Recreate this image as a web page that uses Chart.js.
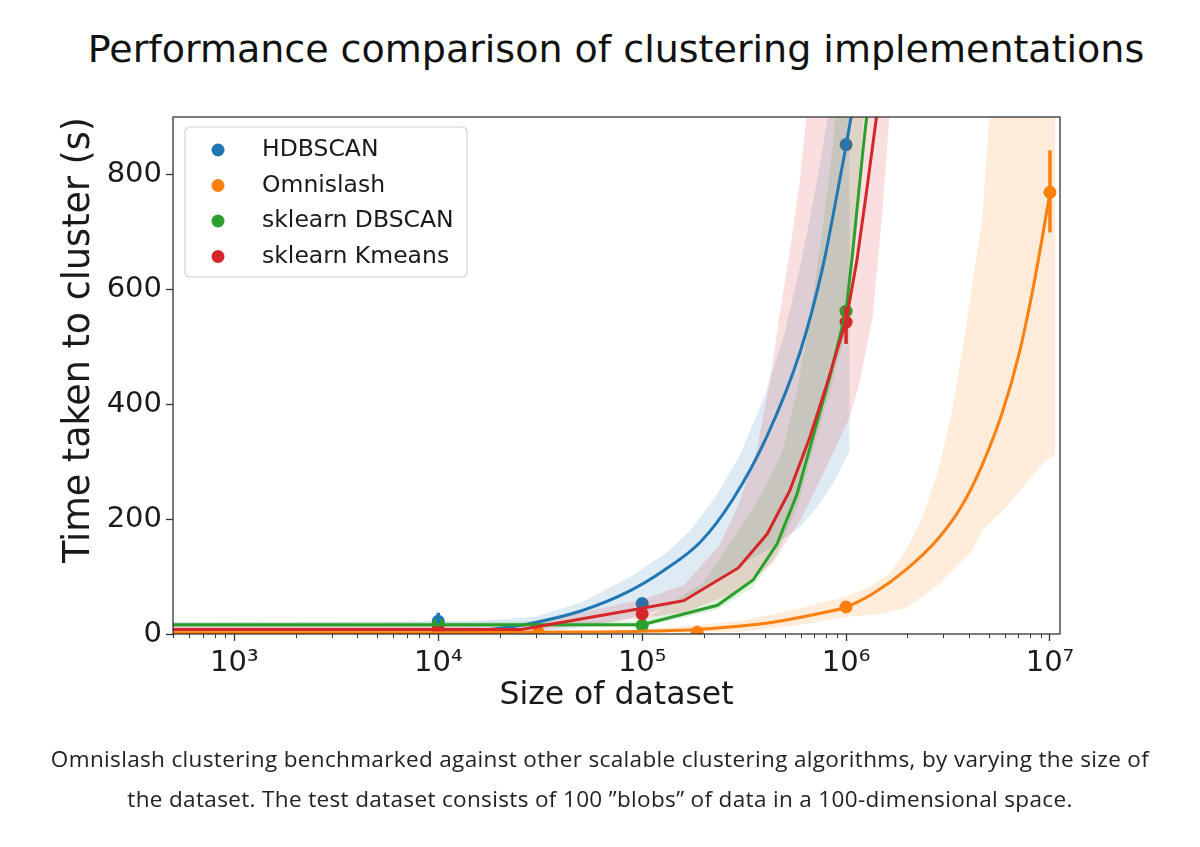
<!DOCTYPE html>
<html>
<head>
<meta charset="utf-8">
<script src="https://cdn.jsdelivr.net/npm/chart.js@4.4.1/dist/chart.umd.min.js"></script>
<style>
  html, body { margin: 0; padding: 0; background: #fff; width: 1200px; height: 847px; overflow: hidden; }
  #wrap { position: relative; width: 1200px; height: 847px; }
  #chart { position: absolute; left: 0; top: 0; }
  #title { position: absolute; left: 16px; top: 30px; width: 1200px; text-align: center;
           font-family: "DejaVu Sans"; font-size: 38px; line-height: 38px; color: #111; }
  #caption { position: absolute; left: 0; top: 739px; width: 1200px; text-align: center;
             font-family: "Open Sans", Lato, sans-serif; font-size: 22.5px; letter-spacing: 0.35px;
             line-height: 40px; color: #222; }
</style>
</head>
<body>
<div id="wrap">
  <div id="title">Performance comparison of clustering implementations</div>
  <canvas id="chart" width="1200" height="847"></canvas>
  <div id="caption">Omnislash clustering benchmarked against other scalable clustering algorithms, by varying the size of<br>the dataset. The test dataset consists of 100 ”blobs” of data in a 100-dimensional space.</div>
</div>
<script>
// 軸の範囲
const X_MIN = 500, X_MAX = 1.12e7;
const Y_MIN = 0, Y_MAX = 900;

const seriesNames = ['HDBSCAN', 'Omnislash', 'sklearn DBSCAN', 'sklearn Kmeans'];
const seriesColors = ['#1f77b4', '#ff7f0e', '#2ca02c', '#d62728'];
const bandColors = ['rgba(31,119,180,0.15)', 'rgba(255,127,14,0.15)', 'rgba(44,160,44,0.15)', 'rgba(214,39,40,0.15)'];

// x軸の主目盛り (10のべき乗) とラベル
const xTickValues = [1e3, 1e4, 1e5, 1e6, 1e7];
const xTickLabels = ['10³', '10⁴', '10⁵', '10⁶', '10⁷'];

// 回帰曲線 [x, y]
const hdbscanLine = [[500,-2],[3000,-2],[1e4,1],[1.5e4,5],[2e4,10],[2.8e4,18],[5e4,40],[8.8e4,76],[1.27e5,110],[1.93e5,160],[2.79e5,235],[4.1e5,345],[5.94e5,490],[7.7e5,640],[9.3e5,790],[1e6,850],[1.07e6,910]];
const omnislashLine = [[500,2],[1e4,2],[3.1e4,3],[1e5,5],[1.86e5,8],[3.5e5,16],[5e5,24],[7e5,34],[1e6,47],[1.35e6,70],[1.97e6,112],[2.86e6,168],[3.72e6,225],[4.66e6,295],[5.83e6,385],[7.08e6,490],[8.19e6,595],[9.17e6,690],[1e7,769]];
const dbscanLine = [[500,16],[1e5,16],[2.34e5,50],[3.5e5,94],[4.59e5,157],[5.74e5,243],[6.88e5,343],[8.32e5,447],[1e6,562],[1.08e6,668],[1.21e6,842],[1.28e6,920]];
const kmeansLine = [[500,8],[2.55e4,8],[1e5,45],[1.6e5,58],[2.96e5,115],[4.1e5,174],[5.3e5,250],[6.65e5,343],[8.05e5,435],[1e6,545],[1.13e6,650],[1.26e6,770],[1.41e6,900],[1.5e6,975]];

// 信頼区間の上端・下端 [x, y]
const hdbscanUpper = [[500,21],[1.5e4,22],[3e4,30],[5e4,55],[8.8e4,100],[1.3e5,140],[1.7e5,178],[2.3e5,240],[3e5,310],[4e5,415],[5e5,525],[6e5,645],[7e5,765],[8e5,885],[8.8e5,1000],[1.04e6,1000]];
const hdbscanLower = [[500,-5],[1.5e4,-5],[3e4,2],[6e4,15],[1e5,32],[1.5e5,55],[2.2e5,85],[3e5,120],[4.1e5,146],[5.94e5,186],[7.2e5,221],[8.6e5,261],[1.04e6,318]];
const omnislashUpper = [[1e5,8],[3e5,22],[6e5,45],[1e6,65],[1.3e6,82],[1.63e6,105],[2e6,150],[2.37e6,203],[2.86e6,290],[3.32e6,390],[3.72e6,494],[4.16e6,609],[4.66e6,725],[5.04e6,900],[5.3e6,1000],[1.06e7,1000]];
const omnislashLower = [[1e5,1],[3e5,4],[6e5,16],[1e6,30],[1.35e6,33],[1.97e6,45],[2.86e6,87],[4.16e6,146],[4.66e6,181],[6.12e6,221],[7.9e6,268],[9.6e6,303],[1.06e7,313]];
const dbscanUpper = [[500,20],[1e5,22],[2e5,90],[3.1e5,189],[4e5,255],[4.9e5,320],[5.8e5,430],[6.65e5,551],[7.5e5,680],[8.3e5,800],[9e5,920],[1e6,1000]];
const dbscanLower = [[500,12],[1e5,12],[2.34e5,42],[3.5e5,82],[4.59e5,140],[5.74e5,220],[6.88e5,320],[8.32e5,420],[1e6,530],[1.1e6,700],[1.25e6,950],[1.3e6,1000]];
const kmeansUpper = [[500,14],[2.5e4,14],[1e5,60],[1.6e5,85],[2.4e5,155],[3e5,228],[3.65e5,320],[4.2e5,435],[4.7e5,551],[5.3e5,668],[5.9e5,783],[6.4e5,900],[7e5,1000]];
const kmeansLower = [[500,3],[2.5e4,3],[1e5,28],[1.6e5,38],[3e5,75],[4.4e5,125],[6e5,200],[8e5,290],[1.04e6,377],[1.16e6,435],[1.35e6,551],[1.5e6,726],[1.63e6,900],[1.75e6,1000]];

// 測定点 [x, y]
const hdbscanDots = [[1e4,22],[1e5,53],[1e6,852]];
const omnislashDots = [[3.1e4,2],[1.86e5,3],[1e6,47],[1e7,769]];
const dbscanDots = [[1e4,16],[1e5,15],[1e6,562]];
const kmeansDots = [[1e4,7],[1e5,35],[1e6,543]];

// エラーバー [x, 下端, 上端]
const hdbscanBars = [[1e4,14,37],[1e5,47,59],[1e6,842,862]];
const omnislashBars = [[1e7,699,842]];
const dbscanBars = [[1e6,553,571]];
const kmeansBars = [[1e5,26,45],[1e6,505,569]];

const seriesData = [
  { line: hdbscanLine, upper: hdbscanUpper, lower: hdbscanLower, dots: hdbscanDots, bars: hdbscanBars, smooth: true },
  { line: omnislashLine, upper: omnislashUpper, lower: omnislashLower, dots: omnislashDots, bars: omnislashBars, smooth: true },
  { line: dbscanLine, upper: dbscanUpper, lower: dbscanLower, dots: dbscanDots, bars: dbscanBars, smooth: false },
  { line: kmeansLine, upper: kmeansUpper, lower: kmeansLower, dots: kmeansDots, bars: kmeansBars, smooth: false },
];

const pts = (arr) => arr.map(([x, y]) => ({ x, y }));

// matplotlib の描画順に合わせる (order が小さいほど手前)
let datasets = [];
seriesData.forEach((s, i) => {
  const color = seriesColors[i];
  datasets.push({
    label: seriesNames[i] + ' dots',
    data: pts(s.dots),
    showLine: false,
    pointRadius: 6.5,
    pointBackgroundColor: color,
    pointBorderWidth: 0,
    order: 28 - i * 2,
  });
  datasets.push({
    label: seriesNames[i] + ' band',
    data: pts(s.upper.concat(s.lower.slice().reverse())),
    fill: 'shape',
    backgroundColor: bandColors[i],
    borderColor: 'transparent',
    borderWidth: 0,
    pointRadius: 0,
    tension: 0,
    order: 27 - i * 2,
  });
  s.bars.forEach(([x, lo, hi]) => {
    datasets.push({
      label: seriesNames[i] + ' bar',
      data: [{ x, y: lo }, { x, y: hi }],
      borderColor: color,
      borderWidth: 3.5,
      borderCapStyle: 'butt',
      pointRadius: 0,
      order: 9 - i * 2,
    });
  });
  datasets.push({
    label: seriesNames[i],
    data: pts(s.line),
    borderColor: color,
    borderWidth: 3,
    pointRadius: 0,
    cubicInterpolationMode: s.smooth ? 'monotone' : 'default',
    tension: 0,
    order: 8 - i * 2,
  });
});

// 枠線と副目盛り
const axesFrame = {
  id: 'axesFrame',
  afterDatasetsDraw(chart) {
    const { ctx, chartArea: a, scales: { x } } = chart;
    ctx.save();
    ctx.strokeStyle = '#333';
    ctx.lineWidth = 1.3;
    ctx.strokeRect(a.left, a.top, a.right - a.left, a.bottom - a.top);
    ctx.lineWidth = 1;
    x.ticks.forEach((t) => {
      if (xTickValues.includes(t.value)) return;
      const px = Math.round(x.getPixelForValue(t.value)) + 0.5;
      ctx.beginPath();
      ctx.moveTo(px, a.bottom);
      ctx.lineTo(px, a.bottom + 4);
      ctx.stroke();
    });
    ctx.restore();
  }
};

// グラフ内の凡例
const legendInside = {
  id: 'legendInside',
  afterDraw(chart) {
    const { ctx, chartArea: a } = chart;
    const bx = a.left + 12, by = a.top + 10, bw = 282, bh = 150;
    ctx.save();
    ctx.beginPath();
    ctx.roundRect(bx, by, bw, bh, 5);
    ctx.fillStyle = 'rgba(255,255,255,0.8)';
    ctx.fill();
    ctx.strokeStyle = '#d0d0d0';
    ctx.lineWidth = 1.2;
    ctx.stroke();
    ctx.font = '23.5px "DejaVu Sans"';
    ctx.textBaseline = 'middle';
    seriesNames.forEach((name, i) => {
      const cy = a.top + 33 + i * 35.5;
      ctx.beginPath();
      ctx.arc(a.left + 45, cy, 6.5, 0, Math.PI * 2);
      ctx.fillStyle = seriesColors[i];
      ctx.fill();
      ctx.fillStyle = '#1a1a1a';
      ctx.fillText(name, a.left + 89, cy);
    });
    ctx.restore();
  }
};

Chart.defaults.font.family = '"DejaVu Sans", sans-serif';
Chart.defaults.color = '#1a1a1a';

new Chart(document.getElementById('chart'), {
  type: 'line',
  data: { datasets },
  options: {
    responsive: false,
    animation: false,
    devicePixelRatio: 1,
    layout: { padding: { top: 117, right: 140, bottom: 127, left: 0 } },
    scales: {
      x: {
        type: 'logarithmic',
        min: X_MIN,
        max: X_MAX,
        afterFit: (scale) => { scale.height = 86; },
        afterBuildTicks: (scale) => {
          const ticks = [];
          for (let e = 2; e <= 7; e++) {
            for (let m = 1; m <= 9; m++) {
              const v = m * 10 ** e;
              if (v >= X_MIN && v <= X_MAX) ticks.push({ value: v });
            }
          }
          scale.ticks = ticks;
        },
        ticks: {
          autoSkip: false,
          maxRotation: 0,
          padding: 5,
          font: { size: 29 },
          color: '#1a1a1a',
          callback: (v) => {
            const i = xTickValues.indexOf(v);
            return i >= 0 ? xTickLabels[i] : '';
          },
        },
        grid: {
          drawOnChartArea: false,
          drawTicks: true,
          tickLength: 7,
          tickWidth: 1.3,
          tickColor: (c) => (c.tick && xTickValues.includes(c.tick.value)) ? '#333' : 'rgba(0,0,0,0)',
        },
        border: { display: false },
        title: {
          display: true,
          text: 'Size of dataset',
          font: { size: 31.5 },
          color: '#1a1a1a',
          padding: { top: 0, bottom: 5 },
        },
      },
      y: {
        type: 'linear',
        min: Y_MIN,
        max: Y_MAX,
        afterFit: (scale) => { scale.width = 173; },
        ticks: {
          stepSize: 200,
          includeBounds: false,
          padding: 4,
          font: { size: 29 },
          color: '#1a1a1a',
        },
        grid: {
          drawOnChartArea: false,
          drawTicks: true,
          tickLength: 7,
          tickWidth: 1.3,
          tickColor: '#333',
        },
        border: { display: false },
        title: {
          display: true,
          text: 'Time taken to cluster (s)',
          align: 'end',
          font: { size: 36.5 },
          color: '#1a1a1a',
          padding: { top: 58 },
        },
      },
    },
    plugins: {
      legend: { display: false },
      tooltip: { enabled: false },
      title: { display: false },
    },
  },
  plugins: [axesFrame, legendInside],
});
</script>
</body>
</html>
